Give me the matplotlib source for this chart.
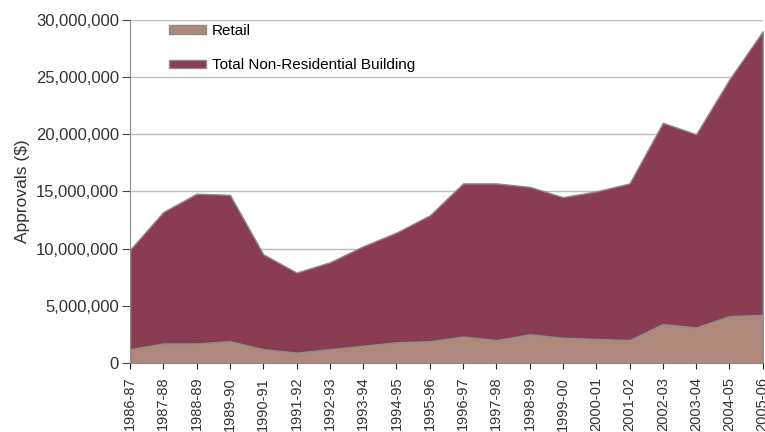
import matplotlib.pyplot as plt
import numpy as np
from matplotlib.patches import Patch
from matplotlib.ticker import FuncFormatter

plt.rcParams['font.family'] = ['Liberation Sans', 'DejaVu Sans']

years = ['1986-87', '1987-88', '1988-89', '1989-90', '1990-91', '1991-92', '1992-93',
         '1993-94', '1994-95', '1995-96', '1996-97', '1997-98', '1998-99', '1999-00',
         '2000-01', '2001-02', '2002-03', '2003-04', '2004-05', '2005-06']
total = [9.9, 13.2, 14.8, 14.7, 9.5, 7.9, 8.8, 10.2, 11.4, 12.9,
         15.7, 15.7, 15.4, 14.5, 15.0, 15.7, 21.0, 20.0, 24.8, 29.0]
retail = [1.2, 1.7, 1.7, 1.9, 1.2, 0.9, 1.2, 1.5, 1.8, 1.9,
          2.3, 2.0, 2.5, 2.2, 2.1, 2.0, 3.4, 3.1, 4.1, 4.2]

total = np.array(total) * 1e6
retail = np.array(retail) * 1e6
x = np.arange(len(years))

c_total = '#8a3d52'
c_retail = '#b0877b'
txt = '#333333'

fig = plt.figure(figsize=(7.65, 4.32), dpi=100)
ax = fig.add_axes([0.17, 0.16, 0.827, 0.794])

for v in range(5000000, 30000001, 5000000):
    ax.axhline(v, color='#bdbdbd', lw=1, zorder=0)

ax.fill_between(x, 0, total, color=c_total, edgecolor='#8c8c8c', lw=1, zorder=2)
ax.fill_between(x, 0, retail, color=c_retail, edgecolor='#8c8c8c', lw=1, zorder=3)

ax.set_xlim(0, 19)
ax.set_ylim(0, 30000000)
ax.set_yticks(range(0, 30000001, 5000000))
ax.yaxis.set_major_formatter(FuncFormatter(lambda v, p: f'{int(v):,}'))
ax.set_xticks(x)
ax.set_xticklabels(years, rotation=90)

for s in ['top', 'right']:
    ax.spines[s].set_visible(False)
ax.spines['left'].set_color('#8c8c8c')
ax.spines['bottom'].set_color('#222222')
ax.tick_params(axis='y', direction='out', length=6, color='#444444',
               labelsize=12, labelcolor=txt, pad=2)
ax.tick_params(axis='x', direction='out', length=4.5, color='#222222',
               labelsize=10.5, labelcolor=txt, pad=5.5)
ax.set_ylabel('Approvals ($)', fontsize=12.5, color=txt, labelpad=4)

handles = [Patch(facecolor=c_retail, edgecolor='#8c8c8c', label='Retail'),
           Patch(facecolor=c_total, edgecolor='#8c8c8c', label='Total Non-Residential Building')]
ax.legend(handles=handles, loc='upper left', bbox_to_anchor=(0.045, 1.02), frameon=False,
          fontsize=11, handlelength=2.4, handleheight=0.5, labelspacing=1.35,
          handletextpad=0.4, borderaxespad=0.3)

fig.savefig('out.png', dpi=100)
